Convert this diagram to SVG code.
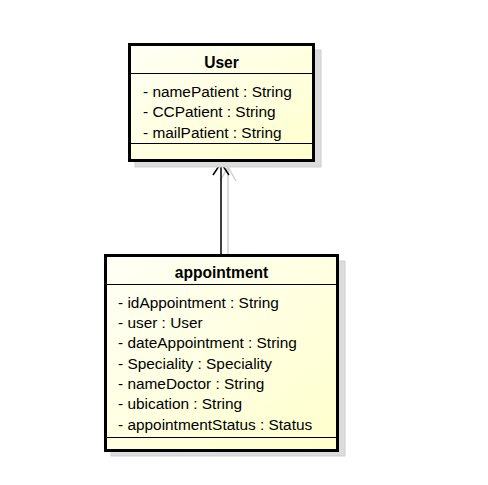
<svg xmlns="http://www.w3.org/2000/svg" width="488" height="485" viewBox="0 0 488 485">
<defs>
<linearGradient id="fill" x1="0" y1="0" x2="1" y2="1">
<stop offset="0" stop-color="#FFFFF6"/>
<stop offset="1" stop-color="#FFFFCC"/>
</linearGradient>
<style>
.shadow{fill:#DCDCDC;stroke:#CFCFCF;stroke-width:1}
.box{fill:url(#fill);stroke:#000;stroke-width:3}
.sep{stroke:#000;stroke-width:1.2}
.title{font-family:"Liberation Sans",Arial,sans-serif;font-weight:bold;font-size:15.6px;text-anchor:middle;fill:#000}
.attr{font-family:"Liberation Sans",Arial,sans-serif;font-size:15.4px;fill:#000}
.conn{stroke:#000;stroke-width:1.5;fill:none}
.connsh{stroke:#D0D0D0;stroke-width:1.5;fill:none}
</style>
</defs>
<rect width="488" height="485" fill="#fff"/>
<g id="connectors">
<path class="connsh" d="M228,254 V167 M220,181 L228,167 L236,181"/>
<path class="conn" d="M221,254 V163 M213,175 L221,163 L229,175"/>
</g>
<g id="User">
<rect class="shadow" x="135" y="50" width="186" height="117"/>
<rect class="box" x="129.5" y="44.5" width="184" height="116"/>
<line class="sep" x1="131" y1="73.5" x2="312" y2="73.5"/>
<line class="sep" x1="131" y1="143.5" x2="312" y2="143.5"/>
<text class="title" x="221.5" y="68">User</text>
<text class="attr" x="143" y="97">- namePatient : String</text>
<text class="attr" x="143" y="117">- CCPatient : String</text>
<text class="attr" x="143" y="138">- mailPatient : String</text>
</g>
<g id="appointment">
<rect class="shadow" x="111" y="261" width="234" height="195"/>
<rect class="box" x="105.5" y="255.5" width="232" height="195"/>
<line class="sep" x1="107" y1="284.5" x2="336" y2="284.5"/>
<line class="sep" x1="107" y1="437.5" x2="336" y2="437.5"/>
<text class="title" x="221.5" y="278">appointment</text>
<text class="attr" x="118" y="308">- idAppointment : String</text>
<text class="attr" x="118" y="328">- user : User</text>
<text class="attr" x="118" y="348">- dateAppointment : String</text>
<text class="attr" x="118" y="369">- Speciality : Speciality</text>
<text class="attr" x="118" y="389">- nameDoctor : String</text>
<text class="attr" x="118" y="409">- ubication : String</text>
<text class="attr" x="118" y="430">- appointmentStatus : Status</text>
</g>
</svg>
